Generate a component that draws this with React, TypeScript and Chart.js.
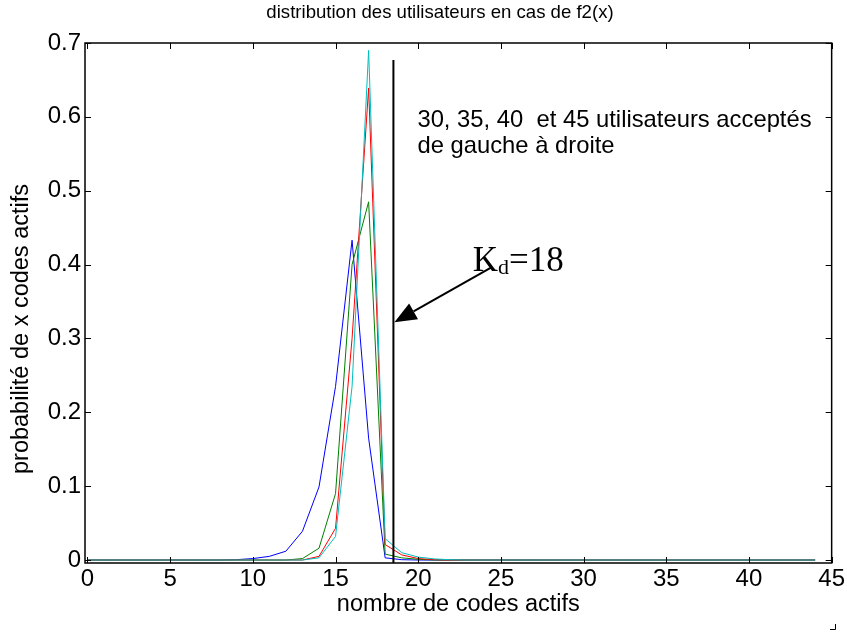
import React, { useEffect, useRef } from 'react';
import { Chart, registerables } from 'chart.js';

Chart.register(...registerables);

const codes = [0, 1, 2, 3, 4, 5, 6, 7, 8, 9, 10, 11, 12, 13, 14, 15, 16, 17, 18, 19, 20, 21, 22, 23, 24, 25, 26, 27, 28, 29, 30, 31, 32, 33, 34, 35, 36, 37, 38, 39, 40, 41, 42, 43, 44];

const users30 = [0, 0, 0, 0, 0, 0, 0, 0, 0, 0.0005, 0.002, 0.005, 0.012, 0.039, 0.099, 0.235, 0.433, 0.165, 0.003, 0.0005, 0, 0, 0, 0, 0, 0, 0, 0, 0, 0, 0, 0, 0, 0, 0, 0, 0, 0, 0, 0, 0, 0, 0, 0, 0];
const users35 = [0, 0, 0, 0, 0, 0, 0, 0, 0, 0, 0, 0, 0, 0.002, 0.016, 0.09, 0.4, 0.485, 0.008, 0.003, 0.001, 0, 0, 0, 0, 0, 0, 0, 0, 0, 0, 0, 0, 0, 0, 0, 0, 0, 0, 0, 0, 0, 0, 0, 0];
const users40 = [0, 0, 0, 0, 0, 0, 0, 0, 0, 0, 0, 0, 0, 0, 0.005, 0.043, 0.3, 0.639, 0.021, 0.007, 0.002, 0.0005, 0, 0, 0, 0, 0, 0, 0, 0, 0, 0, 0, 0, 0, 0, 0, 0, 0, 0, 0, 0, 0, 0, 0];
const users45 = [0, 0, 0, 0, 0, 0, 0, 0, 0, 0, 0, 0, 0, 0, 0.003, 0.032, 0.235, 0.69, 0.029, 0.01, 0.004, 0.0015, 0.0004, 0, 0, 0, 0, 0, 0, 0, 0, 0, 0, 0, 0, 0, 0, 0, 0, 0, 0, 0, 0, 0, 0];

const xTicks = [0, 5, 10, 15, 20, 25, 30, 35, 40, 45];
const yTicks = [0, 0.1, 0.2, 0.3, 0.4, 0.5, 0.6, 0.7];

const titleText = 'distribution des utilisateurs en cas de f2(x)';
const xTitle = 'nombre de codes actifs';
const yTitle = 'probabilité de x codes actifs';
const noteLine1 = '30, 35, 40  et 45 utilisateurs acceptés';
const noteLine2 = 'de gauche à droite';
const kdValue = 18.5;
const kdLabel = '18';

const SANS = "'Liberation Sans', Arial, sans-serif";
const SERIF = "'Liberation Serif', 'Times New Roman', serif";

const overlay = {
  id: 'overlay',
  beforeDraw(chart: any) {
    const { ctx, width, height } = chart;
    ctx.save();
    ctx.fillStyle = '#ffffff';
    ctx.fillRect(0, 0, width, height);
    ctx.restore();
  },
  afterDatasetsDraw(chart: any) {
    const { ctx, chartArea: a, scales } = chart;
    const x = scales.x;
    const y = scales.y;
    ctx.save();
    ctx.strokeStyle = '#000';
    ctx.fillStyle = '#000';
    // box
    ctx.lineWidth = 1.5;
    ctx.strokeRect(a.left, a.top, a.right - a.left, a.bottom - a.top);
    // inward ticks
    ctx.lineWidth = 1;
    const tl = 6;
    xTicks.forEach((v) => {
      const px = Math.round(x.getPixelForValue(v)) + 0.5;
      ctx.beginPath();
      ctx.moveTo(px, a.bottom);
      ctx.lineTo(px, a.bottom - tl);
      ctx.moveTo(px, a.top);
      ctx.lineTo(px, a.top + tl);
      ctx.stroke();
    });
    yTicks.forEach((v) => {
      const py = Math.round(y.getPixelForValue(v)) + 0.5;
      ctx.beginPath();
      ctx.moveTo(a.left, py);
      ctx.lineTo(a.left + tl, py);
      ctx.moveTo(a.right, py);
      ctx.lineTo(a.right - tl, py);
      ctx.stroke();
    });
    // Kd vertical line
    const kx = x.getPixelForValue(kdValue);
    ctx.lineWidth = 2;
    ctx.beginPath();
    ctx.moveTo(kx, y.getPixelForValue(0.677));
    ctx.lineTo(kx, a.bottom);
    ctx.stroke();
    // arrow
    const tipX = kx + 1;
    const tipY = y.getPixelForValue(0.322);
    const tailX = x.getPixelForValue(24.4);
    const tailY = y.getPixelForValue(0.396);
    const ang = Math.atan2(tailY - tipY, tailX - tipX);
    const hl = 22;
    const hw = 9;
    const bx = tipX + hl * Math.cos(ang);
    const by = tipY + hl * Math.sin(ang);
    ctx.lineWidth = 2;
    ctx.beginPath();
    ctx.moveTo(tailX, tailY);
    ctx.lineTo(bx, by);
    ctx.stroke();
    ctx.beginPath();
    ctx.moveTo(tipX, tipY);
    ctx.lineTo(bx + hw * Math.sin(ang), by - hw * Math.cos(ang));
    ctx.lineTo(bx - hw * Math.sin(ang), by + hw * Math.cos(ang));
    ctx.closePath();
    ctx.fill();
    // Kd label
    const lx = x.getPixelForValue(23.3);
    const ly = y.getPixelForValue(0.392);
    ctx.textBaseline = 'alphabetic';
    ctx.textAlign = 'left';
    ctx.font = `35px ${SERIF}`;
    ctx.fillText('K', lx, ly);
    let w = ctx.measureText('K').width;
    ctx.font = `22px ${SERIF}`;
    ctx.fillText('d', lx + w, ly + 3);
    w += ctx.measureText('d').width;
    ctx.font = `35px ${SERIF}`;
    ctx.fillText('=' + kdLabel, lx + w, ly);
    // note text
    ctx.font = `23.8px ${SANS}`;
    ctx.textBaseline = 'middle';
    ctx.fillText(noteLine1, x.getPixelForValue(19.95), y.getPixelForValue(0.595));
    ctx.fillText(noteLine2, x.getPixelForValue(19.95), y.getPixelForValue(0.56));
    // titles
    ctx.textAlign = 'center';
    ctx.font = `18.6px ${SANS}`;
    ctx.fillText(titleText, 440, 13);
    ctx.font = `23.5px ${SANS}`;
    ctx.fillText(xTitle, (a.left + a.right) / 2, 605);
    ctx.save();
    ctx.translate(22, 329);
    ctx.rotate(-Math.PI / 2);
    ctx.fillText(yTitle, 0, 0);
    ctx.restore();
    // corner mark
    ctx.lineWidth = 1;
    ctx.beginPath();
    ctx.moveTo(830, 629.5);
    ctx.lineTo(835.5, 629.5);
    ctx.lineTo(835.5, 624);
    ctx.stroke();
    ctx.restore();
  },
};

export default function App() {
  const ref = useRef<HTMLCanvasElement | null>(null);
  useEffect(() => {
    if (!ref.current) return;
    const mk = (label: string, data: number[], color: string, order: number) => ({
      label,
      data: codes.map((c, i) => ({ x: c, y: data[i] })),
      borderColor: color,
      backgroundColor: color,
      borderWidth: 1,
      pointRadius: 0,
      tension: 0,
      fill: false,
      order,
    });
    const chart = new Chart(ref.current, {
      type: 'line',
      data: {
        datasets: [
          mk('30 utilisateurs', users30, '#0000ff', 3),
          mk('35 utilisateurs', users35, '#008000', 2),
          mk('40 utilisateurs', users40, '#ff0000', 1),
          mk('45 utilisateurs', users45, '#00bfbf', 0),
        ],
      },
      options: {
        animation: false,
        responsive: false,
        devicePixelRatio: 1,
        layout: { padding: { left: 0, top: 43, right: 15, bottom: 0 } },
        plugins: { legend: { display: false }, tooltip: { enabled: false }, title: { display: false } },
        scales: {
          x: {
            type: 'linear',
            min: -0.15,
            max: 45,
            afterFit: (s: any) => { s.height = 78; },
            afterBuildTicks: (s: any) => { s.ticks = xTicks.map((v) => ({ value: v })); },
            grid: { display: false, drawTicks: false },
            border: { display: false },
            ticks: { color: '#000', padding: 2, font: { family: SANS, size: 24 }, maxRotation: 0, autoSkip: false },
          },
          y: {
            type: 'linear',
            min: -0.004,
            max: 0.7,
            afterFit: (s: any) => { s.width = 85; },
            afterBuildTicks: (s: any) => { s.ticks = yTicks.map((v) => ({ value: v })); },
            grid: { display: false, drawTicks: false },
            border: { display: false },
            ticks: {
              color: '#000',
              padding: 4,
              font: { family: SANS, size: 24 },
              autoSkip: false,
              callback: (v: any) => (v === 0 ? '0' : Number(v).toFixed(1)),
            },
          },
        },
      },
      plugins: [overlay],
    });
    return () => chart.destroy();
  }, []);
  return (
    <div style={{ position: 'absolute', left: 0, top: 0, width: 847, height: 641 }}>
      <canvas ref={ref} width={847} height={641} style={{ width: 847, height: 641 }} />
    </div>
  );
}
